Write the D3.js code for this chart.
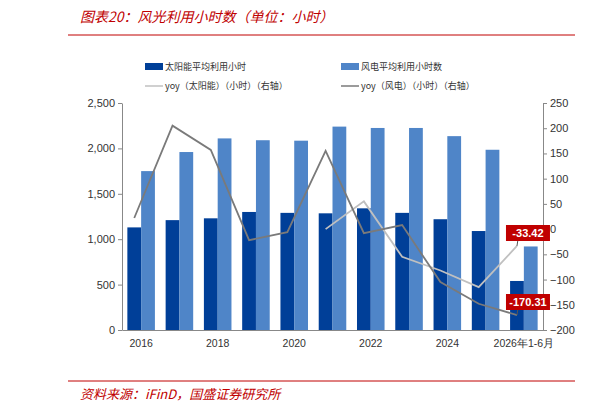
<!DOCTYPE html>
<html><head><meta charset="utf-8">
<script src="https://cdn.jsdelivr.net/npm/d3@7"></script>
<style>body{margin:0;background:#fff;font-family:"Noto Sans CJK SC",sans-serif;}</style>
</head><body><svg width="605" height="413"></svg>
<script>
var categories = ['2016','2017','2018','2019','2020','2021','2022','2023','2024','2025','2026年1-6月'];
var tickLabels = ['2016','2018','2020','2022','2024','2026年1-6月'];
var solarHours = [1130,1210,1230,1300,1290,1285,1340,1290,1220,1090,540];
var windHours = [1750,1960,2110,2090,2085,2240,2225,2225,2135,1985,920];
var solarYoy = [null,null,null,null,null,0,55,-55,-82,-115,-33.42];
var windYoy = [22,205,157,-22,-6,155,-8,8,-105,-148,-170.31];

var svg = d3.select('svg');
var L = 122, R = 543, T = 103, B = 330;
var RED = '#c00000';

svg.append('text').attr('x', 80).attr('y', 22).attr('fill', RED)
    .attr('font-size', 14).attr('font-style', 'italic').text('图表20：风光利用小时数（单位：小时）');
svg.append('line').attr('x1', 68).attr('x2', 575).attr('y1', 35).attr('y2', 35).attr('stroke', RED);
svg.append('line').attr('x1', 68).attr('x2', 575).attr('y1', 381).attr('y2', 381).attr('stroke', RED);
svg.append('text').attr('x', 80).attr('y', 399).attr('fill', RED)
    .attr('font-size', 13).attr('font-style', 'italic').text('资料来源：iFinD，国盛证券研究所');

var x = d3.scaleBand().domain(categories).range([L, R]).paddingInner(0.1).paddingOuter(0.05);
var yL = d3.scaleLinear().domain([0, 2500]).range([B, T]);
var yR = d3.scaleLinear().domain([-200, 250]).range([B, T]);
var bw = x.bandwidth() * 0.4;

function axisStyle(g) {
    g.selectAll('path,line').attr('stroke', '#888');
    g.selectAll('text').attr('fill', '#333').attr('font-size', 11).attr('font-family', 'Liberation Sans,sans-serif');
}
svg.append('g').attr('transform', 'translate(' + L + ',0)')
    .call(d3.axisLeft(yL).tickValues(d3.range(0, 2501, 500)).tickSize(4).tickSizeOuter(0)).call(axisStyle);
svg.append('g').attr('transform', 'translate(' + R + ',0)')
    .call(d3.axisRight(yR).tickValues(d3.range(-200, 251, 50)).tickSize(4).tickSizeOuter(0)).call(axisStyle);
var xa = svg.append('g').attr('transform', 'translate(0,' + B + ')')
    .call(d3.axisBottom(x).tickValues(tickLabels.map(function (t) { return t; })).tickSize(0).tickPadding(10)).call(axisStyle);
xa.selectAll('text').attr('font-size', 10.5);

var cx = function (i) { return x(categories[i]) + x.bandwidth() / 2 - bw / 2; };

svg.append('g').selectAll('rect').data(solarHours).enter().append('rect')
    .attr('x', function (d, i) { return cx(i) - bw / 2; }).attr('width', bw)
    .attr('y', function (d) { return yL(d); }).attr('height', function (d) { return B - yL(d); })
    .attr('fill', '#003f98');
svg.append('g').selectAll('rect').data(windHours).enter().append('rect')
    .attr('x', function (d, i) { return cx(i) + bw / 2; }).attr('width', bw)
    .attr('y', function (d) { return yL(d); }).attr('height', function (d) { return B - yL(d); })
    .attr('fill', '#4f85c8');

var line = d3.line().defined(function (d) { return d !== null; })
    .x(function (d, i) { return cx(i); }).y(function (d) { return yR(d); });
svg.append('path').datum(solarYoy).attr('d', line).attr('fill', 'none').attr('stroke', '#c0c0c0').attr('stroke-width', 1.8);
svg.append('path').datum(windYoy).attr('d', line).attr('fill', 'none').attr('stroke', '#7a7a7a').attr('stroke-width', 1.8);

function callout(v, ly) {
    var i = categories.length - 1, px = cx(i), py = yR(v);
    svg.append('line').attr('x1', px).attr('y1', py).attr('x2', px + 2).attr('y2', ly).attr('stroke', '#555');
    svg.append('rect').attr('x', px - 11).attr('y', ly - 8).attr('width', 44).attr('height', 16).attr('fill', RED);
    svg.append('text').attr('x', px + 11).attr('y', ly + 4).attr('text-anchor', 'middle').attr('fill', '#fff')
        .attr('font-size', 11).attr('font-weight', 'bold').attr('font-family', 'Liberation Sans,sans-serif').text(v.toFixed(2));
}
callout(solarYoy[10], 233);
callout(windYoy[10], 302);

var lg = svg.append('g').attr('font-size', 9).attr('fill', '#333');
function leg(x0, y0, type, color, label) {
    if (type === 'rect') lg.append('rect').attr('x', x0).attr('y', y0 - 4).attr('width', 18).attr('height', 7).attr('fill', color);
    else lg.append('line').attr('x1', x0).attr('x2', x0 + 18).attr('y1', y0).attr('y2', y0).attr('stroke', color).attr('stroke-width', 1.5);
    lg.append('text').attr('x', x0 + 20).attr('y', y0 + 3).text(label);
}
leg(145, 67, 'rect', '#003f98', '太阳能平均利用小时');
leg(341, 67, 'rect', '#4f85c8', '风电平均利用小时数');
leg(145, 86, 'line', '#c0c0c0', 'yoy（太阳能）（小时）（右轴）');
leg(341, 86, 'line', '#7a7a7a', 'yoy（风电）（小时）（右轴）');
</script></body></html>
